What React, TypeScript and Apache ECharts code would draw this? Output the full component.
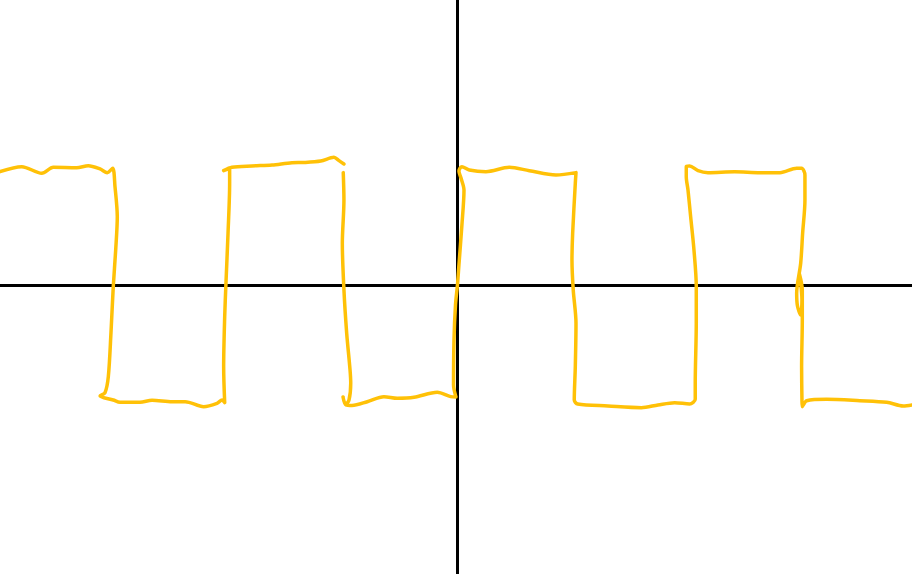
import React, { useEffect, useRef } from "react";
import * as echarts from "echarts";

// Hand-drawn square wave, amplitude 1, transitions at integer x.
// Stroke 1 (from left edge to the small pen lift near x = -1)
const stroke1X = [
  -3.974, -3.785, -3.611, -3.51, -3.307, -3.206, -3.104, -3.041, -2.994,
  -2.974, -2.954, -2.968, -2.989, -3.009, -3.032, -3.061, -3.104,
  -2.989, -2.93, -2.757, -2.652, -2.478, -2.363, -2.203, -2.087, -2.043, -2.02,
  -2.029, -2.02, -2.009, -1.991, -1.977, -1.977, -2.029,
  -1.957, -1.783, -1.609, -1.435, -1.33, -1.185, -1.07, -1.026, -0.983,
];
const stroke1Y = [
  0.985, 1.029, 0.971, 1.023, 1.02, 1.037, 1.009, 0.977, 1.015,
  0.855, 0.594, 0.304, -0.015, -0.417, -0.797, -0.937, -0.965,
  -1.0, -1.02, -1.02, -1.003, -1.015, -1.015, -1.058, -1.029, -1.0, -1.023,
  -0.71, -0.276, 0.015, 0.45, 0.884, 1.015, 0.994,
  1.023, 1.035, 1.043, 1.063, 1.065, 1.078, 1.11, 1.081, 1.052,
];
// Stroke 2 (from x = -1 to the right edge)
const stroke2X = [
  -0.989, -0.983, -0.997, -0.983, -0.959, -0.93, -0.924, -0.939, -0.97, -0.991,
  -0.965, -0.913, -0.78, -0.635, -0.519, -0.374, -0.171, -0.055, -0.009,
  -0.03, -0.026, -0.013, 0.004, 0.017, 0.043, 0.061, 0.035, 0.017, 0.043,
  0.107, 0.252, 0.455, 0.629, 0.861, 1.035,
  1.029, 1.006, 1.0, 1.011, 1.035, 1.029, 1.02, 1.05,
  1.313, 1.603, 1.748, 1.893, 2.023, 2.072,
  2.072, 2.081, 2.081, 2.061, 2.032, 2.009, 1.994, 1.994, 2.023,
  2.096, 2.183, 2.415, 2.635, 2.809, 2.954, 2.997, 3.026,
  3.026, 3.006, 2.989, 2.954, 2.961, 2.989, 3.0, 2.978, 3.003, 3.003, 2.997, 3.0, 3.003, 3.041,
  3.215, 3.504, 3.737, 3.881, 3.957,
];
const stroke2Y = [
  0.977, 0.739, 0.363, -0.043, -0.42, -0.739, -0.855, -1.0, -1.039, -0.974,
  -1.043, -1.048, -1.015, -0.971, -0.985, -0.977, -0.933, -0.971, -0.974,
  -0.87, -0.478, -0.174, 0.0, 0.174, 0.522, 0.826, 0.93, 0.991, 1.029,
  1.0, 0.985, 1.023, 0.994, 0.957, 0.977,
  0.884, 0.45, 0.217, -0.043, -0.333, -0.71, -1.0, -1.035,
  -1.052, -1.067, -1.043, -1.023, -1.035, -0.994,
  -0.855, -0.333, -0.015, 0.304, 0.594, 0.826, 0.942, 1.029, 1.035,
  0.994, 0.977, 0.985, 0.977, 0.977, 1.015, 1.015, 0.957,
  0.739, 0.45, 0.189, -0.072, -0.183, -0.261, -0.13, 0.096, -0.043, -0.304, -0.71, -1.0, -1.058, -1.006,
  -0.994, -1.006, -1.02, -1.052, -1.043,
];

const X_MIN = -3.974;
const X_MAX = 3.957;
const Y_MIN = -2.513;
const Y_MAX = 2.478;

const zip = (xs: number[], ys: number[]) => xs.map((x, i) => [x, ys[i]]);

export default function App() {
  const ref = useRef<HTMLDivElement>(null);
  useEffect(() => {
    if (!ref.current) return;
    const chart = echarts.init(ref.current, undefined, { renderer: "svg" });
    const lineStyle = { color: "#FFC107", width: 3.5, cap: "round" as const, join: "round" as const };
    const axisCommon = {
      type: "value" as const,
      axisLine: { show: true, onZero: true, lineStyle: { color: "#000", width: 3 } },
      axisTick: { show: false },
      axisLabel: { show: false },
      splitLine: { show: false },
    };
    chart.setOption({
      animation: false,
      grid: { left: 0, right: 0, top: 0, bottom: 0 },
      xAxis: { ...axisCommon, min: X_MIN, max: X_MAX },
      yAxis: { ...axisCommon, min: Y_MIN, max: Y_MAX },
      series: [
        {
          type: "line",
          data: zip(stroke1X, stroke1Y),
          showSymbol: false,
          smooth: 0.3,
          lineStyle,
          z: 3,
        },
        {
          type: "line",
          data: zip(stroke2X, stroke2Y),
          showSymbol: false,
          smooth: 0.3,
          lineStyle,
          z: 3,
        },
      ],
    });
    return () => chart.dispose();
  }, []);
  return (
    <div
      ref={ref}
      style={{ position: "fixed", left: 0, top: 0, width: 912, height: 574, background: "#fff" }}
    />
  );
}
